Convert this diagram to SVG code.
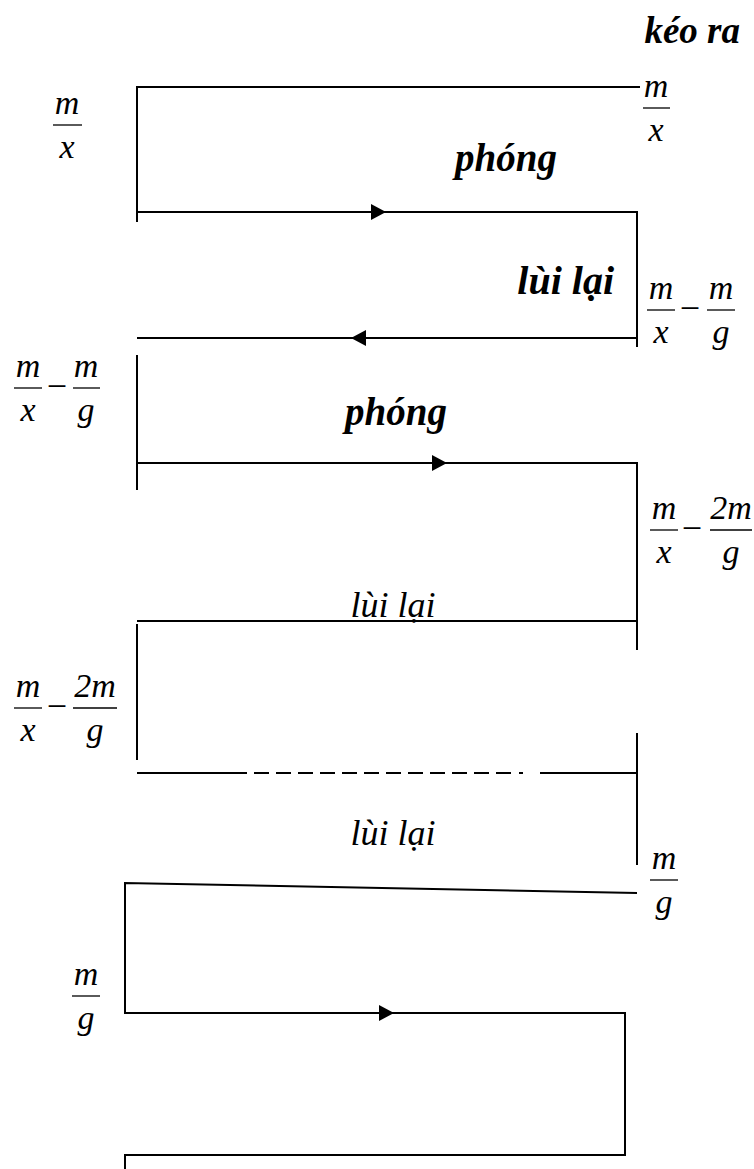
<svg xmlns="http://www.w3.org/2000/svg" width="754" height="1169" viewBox="0 0 754 1169">
  <style>
    .ln { stroke: #000; stroke-width: 2; fill: none; stroke-linecap: butt; }
    .bar { stroke: #000; stroke-width: 1.3; }
    .arrow { fill: #000; }
    .lbl { font-family: "Liberation Serif", "Times New Roman", serif; font-style: italic; fill: #000; }
    .bold { font-weight: bold; }
    .frac { font-family: "Liberation Serif", "Times New Roman", serif; font-style: italic; font-size: 34px; fill: #000; text-anchor: middle; }
    .minus { font-family: "Liberation Serif", "Times New Roman", serif; font-size: 36px; fill: #000; text-anchor: middle; }
  </style>
  <defs>
    <path id="arrowR" d="M -15 -8 L 0 0 L -15 8 Z"/>
  </defs>

  <rect width="754" height="1169" fill="#fff"/>

  <!-- connectors: the zig-zag path of the motion -->
  <g id="connectors">
    <!-- stage 1: pulled out, then launched -->
    <path class="ln" d="M 640 87 H 137 V 222"/>
    <path class="ln" d="M 137 212 H 637 V 347"/>
    <use href="#arrowR" class="arrow" transform="translate(386 212)"/>
    <!-- stage 2: recoil -->
    <path class="ln" d="M 637 338 H 137"/>
    <use href="#arrowR" class="arrow" transform="translate(351 338) rotate(180)"/>
    <!-- stage 3: launched again -->
    <path class="ln" d="M 137 355 V 490"/>
    <path class="ln" d="M 137 463 H 637 V 650"/>
    <use href="#arrowR" class="arrow" transform="translate(447 463)"/>
    <!-- stage 4: recoil -->
    <path class="ln" d="M 637 621 H 137"/>
    <path class="ln" d="M 137 624 V 760"/>
    <!-- omitted intermediate cycles -->
    <path class="ln" d="M 137 773 H 247"/>
    <path class="ln" d="M 254 773 H 511" stroke-dasharray="15 7"/>
    <path class="ln" d="M 519 773 H 523"/>
    <path class="ln" d="M 540 773 H 637"/>
    <path class="ln" d="M 637 733 V 865"/>
    <!-- final stage -->
    <path class="ln" d="M 637 893 L 125 883 V 1013 H 625 V 1155 H 125 V 1169"/>
    <use href="#arrowR" class="arrow" transform="translate(394 1013)"/>
  </g>

  <!-- motion labels -->
  <g id="label-keo-ra"><text class="lbl bold" x="740" y="43" font-size="37" text-anchor="end">kéo ra</text></g>
  <g id="label-phong-1"><text class="lbl bold" x="455" y="171" font-size="39">phóng</text></g>
  <g id="label-lui-lai-1"><text class="lbl bold" x="614" y="294" font-size="40" text-anchor="end">lùi lại</text></g>
  <g id="label-phong-2"><text class="lbl bold" x="345" y="425" font-size="39">phóng</text></g>
  <g id="label-lui-lai-2"><text class="lbl" x="393" y="617" font-size="36" text-anchor="middle">lùi lại</text></g>
  <g id="label-lui-lai-3"><text class="lbl" x="393" y="845" font-size="36" text-anchor="middle">lùi lại</text></g>

  <!-- m/x, right top -->
  <g id="val-right-1">
    <text class="frac" x="656" y="97">m</text>
    <line class="bar" x1="643" y1="108" x2="670" y2="108"/>
    <text class="frac" x="656" y="141">x</text>
  </g>
  <!-- m/x, left top -->
  <g id="val-left-1">
    <text class="frac" x="67" y="114">m</text>
    <line class="bar" x1="53" y1="125" x2="82" y2="125"/>
    <text class="frac" x="67" y="158">x</text>
  </g>
  <!-- m/x - m/g, right -->
  <g id="val-right-2">
    <text class="frac" x="661" y="299">m</text>
    <line class="bar" x1="647" y1="310" x2="675" y2="310"/>
    <text class="frac" x="661" y="343">x</text>
    <text class="minus" x="690" y="320">−</text>
    <text class="frac" x="721" y="299">m</text>
    <line class="bar" x1="707" y1="310" x2="735" y2="310"/>
    <text class="frac" x="721" y="343">g</text>
  </g>
  <!-- m/x - m/g, left -->
  <g id="val-left-2">
    <text class="frac" x="28" y="377">m</text>
    <line class="bar" x1="14" y1="388" x2="42" y2="388"/>
    <text class="frac" x="28" y="421">x</text>
    <text class="minus" x="57" y="398">−</text>
    <text class="frac" x="86" y="377">m</text>
    <line class="bar" x1="73" y1="388" x2="100" y2="388"/>
    <text class="frac" x="86" y="421">g</text>
  </g>
  <!-- m/x - 2m/g, right -->
  <g id="val-right-3">
    <text class="frac" x="664" y="519">m</text>
    <line class="bar" x1="650" y1="530" x2="678" y2="530"/>
    <text class="frac" x="664" y="563">x</text>
    <text class="minus" x="692" y="540">−</text>
    <text class="frac" x="731" y="519">2m</text>
    <line class="bar" x1="710" y1="530" x2="752" y2="530"/>
    <text class="frac" x="731" y="563">g</text>
  </g>
  <!-- m/x - 2m/g, left -->
  <g id="val-left-3">
    <text class="frac" x="28" y="697">m</text>
    <line class="bar" x1="14" y1="708" x2="42" y2="708"/>
    <text class="frac" x="28" y="741">x</text>
    <text class="minus" x="57" y="718">−</text>
    <text class="frac" x="95" y="697">2m</text>
    <line class="bar" x1="73" y1="708" x2="117" y2="708"/>
    <text class="frac" x="95" y="741">g</text>
  </g>
  <!-- m/g, right -->
  <g id="val-right-4">
    <text class="frac" x="664" y="869">m</text>
    <line class="bar" x1="650" y1="880" x2="678" y2="880"/>
    <text class="frac" x="664" y="913">g</text>
  </g>
  <!-- m/g, left -->
  <g id="val-left-4">
    <text class="frac" x="86" y="985">m</text>
    <line class="bar" x1="72" y1="996" x2="100" y2="996"/>
    <text class="frac" x="86" y="1029">g</text>
  </g>
</svg>
